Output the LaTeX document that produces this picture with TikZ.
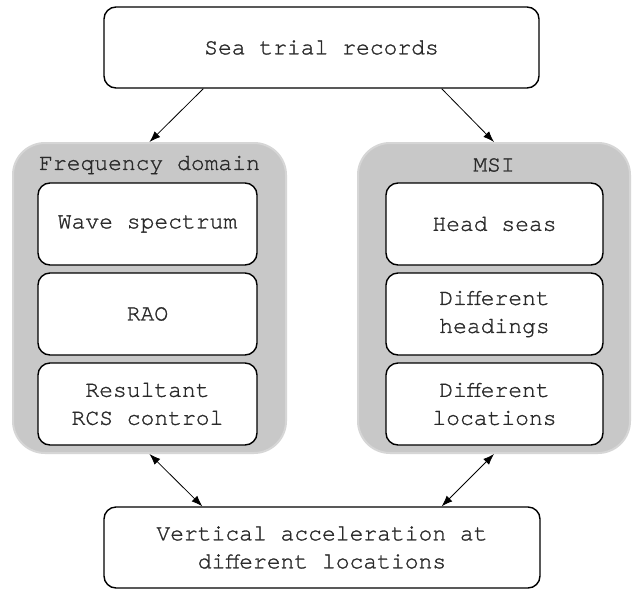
\documentclass[tikz,border=0pt]{standalone}
\usepackage{fontspec}
\setmonofont{TeX Gyre Cursor}[FakeBold=1.2]
\usetikzlibrary{arrows.meta,calc}
\definecolor{grpfill}{HTML}{C8C8C8}
\definecolor{grpedge}{HTML}{D6D6D6}
\definecolor{txt}{HTML}{2A2A2A}
\tikzset{
  box/.style={draw=black, line width=1.4pt, fill=white, rounded corners=12pt,
    text=txt, align=center, font=\ttfamily\fontsize{23}{28}\selectfont, inner sep=0pt},
  group/.style={draw=grpedge, line width=2pt, fill=grpfill, rounded corners=32pt,
    minimum width=272pt, minimum height=310pt, inner sep=0pt},
  grptitle/.style={text=txt, font=\ttfamily\fontsize{23}{28}\selectfont, inner sep=0pt},
  conn/.style={line width=0.8pt, -{Latex[length=11pt,width=8pt]}},
  bconn/.style={line width=0.8pt, {Latex[length=11pt,width=8pt]}-{Latex[length=11pt,width=8pt]}}
}
\begin{document}
\begin{tikzpicture}[x=1pt,y=-1pt]
\useasboundingbox[fill=white] (0,0) rectangle (634,592);
\node[box, minimum width=435pt, minimum height=81pt] (top) at (321.5,47.5) {Sea trial records};
\node[group, minimum width=273pt] (fd) at (149.5,298) {};
\node[group] (msi) at (494,298) {};
\node[grptitle] (fdt) at (149.5,165) {Frequency domain};
\node[grptitle] (msit) at (494,165) {MSI};
\node[box, minimum width=219pt, minimum height=82pt] (wave) at (147.5,224) {Wave spectrum};
\node[box, minimum width=219pt, minimum height=82pt] (rao) at (147.5,314) {RAO};
\node[box, minimum width=219pt, minimum height=82pt] (rcs) at (147.5,404) {Resultant\\RCS control};
\node[box, minimum width=217pt, minimum height=82pt] (head) at (494.5,224) {Head seas};
\node[box, minimum width=217pt, minimum height=82pt] (head2) at (494.5,314) {Different\\headings};
\node[box, minimum width=217pt, minimum height=82pt] (loc) at (494.5,404) {Different\\locations};
\node[box, minimum width=436pt, minimum height=81pt] (bot) at (322,547.5) {Vertical acceleration at\\different locations};
\draw[conn] ([xshift=100pt]top.south west) -- (fd.north);
\draw[conn] ([xshift=-98pt]top.south east) -- (msi.north);
\draw[bconn] (fd.south) -- ([xshift=99pt]bot.north west);
\draw[bconn] (msi.south) -- ([xshift=-99pt]bot.north east);
\end{tikzpicture}
\end{document}
